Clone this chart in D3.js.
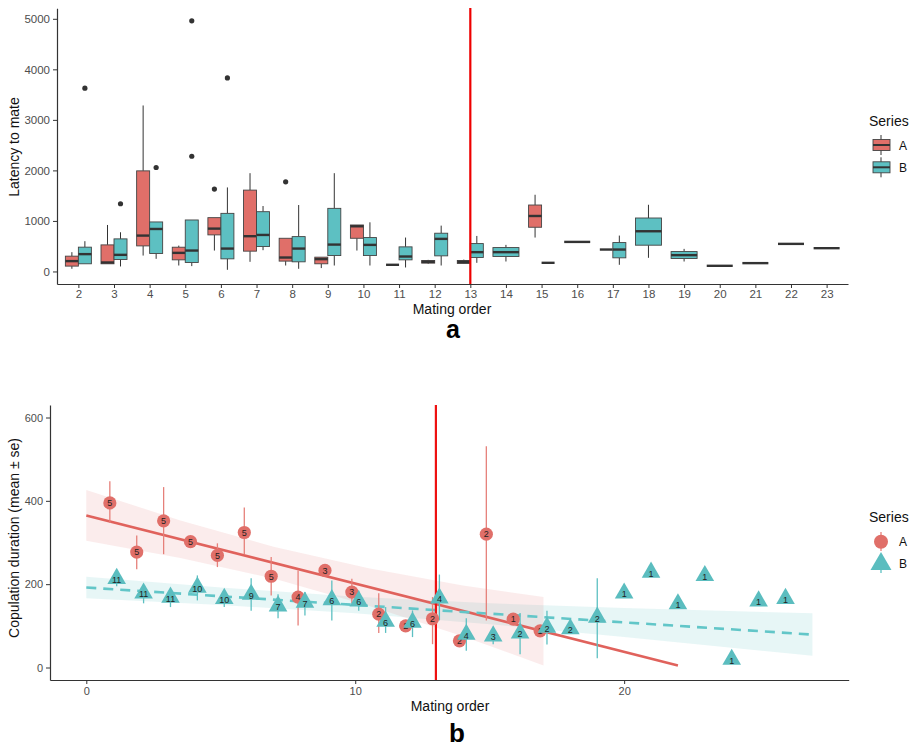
<!DOCTYPE html>
<html>
<head>
<meta charset="utf-8">
<script src="https://cdn.jsdelivr.net/npm/d3@7"></script>
<style>
  body { margin: 0; background: #fff; }
  svg { font-family: "Liberation Sans", Arial, sans-serif; }
  .axis path, .axis line { stroke: #333; }
  .axis text { fill: #4d4d4d; }
</style>
</head>
<body>
<script>
// ---- panel a: latency to mate (boxplots) ----
var orders = ['2','3','4','5','6','7','8','9','10','11','12','13','14','15','16','17','18','19','20','21','22','23']
var seriesNames = ['A', 'B']
var seriesColors = ['#e06f69', '#5dc0c2']

// [order, lower whisker, q1, median, q3, upper whisker]
var boxA = [
    ['2', 53, 106, 205, 303, 382],
    ['3', 150, 152, 178, 526, 920],
    ['4', 315, 506, 710, 1991, 3285],
    ['5', 118, 230, 368, 480, 512],
    ['6', 414, 724, 848, 1065, 1065],
    ['7', 191, 402, 698, 1610, 1945],
    ['8', 118, 205, 276, 657, 657],
    ['9', 67, 152, 244, 283, 283],
    ['10', 414, 657, 894, 920, 920],
    ['11', 132, 132, 132, 132, 132],
    ['12', 150, 165, 191, 217, 230],
    ['13', 150, 158, 191, 217, 235],
    ['15', 671, 875, 1098, 1315, 1518],
    ['17', 434, 434, 434, 434, 434]
]
var boxB = [
    ['2', 152, 152, 343, 481, 599],
    ['3', 99, 237, 329, 645, 776],
    ['4', 250, 355, 841, 980, 980],
    ['5', 106, 178, 414, 1019, 1019],
    ['6', 33, 250, 453, 1150, 1663],
    ['7', 421, 493, 723, 1183, 1295],
    ['8', 53, 191, 453, 690, 1315],
    ['9', 118, 315, 532, 1249, 1945],
    ['10', 118, 315, 526, 671, 973],
    ['11', 79, 230, 296, 487, 671],
    ['12', 118, 309, 645, 757, 907],
    ['13', 171, 276, 382, 552, 703],
    ['14', 197, 296, 382, 473, 526],
    ['15', 171, 171, 171, 171, 171],
    ['16', 585, 585, 585, 585, 585],
    ['17', 132, 270, 434, 572, 710],
    ['18', 270, 520, 796, 1058, 1320],
    ['19', 197, 256, 323, 394, 447],
    ['20', 112, 112, 112, 112, 112],
    ['21', 165, 165, 165, 165, 165],
    ['22', 546, 546, 546, 546, 546],
    ['23', 461, 461, 461, 461, 461]
]
// [order, series, value]
var outliers = [
    ['2', 'B', 3627], ['3', 'B', 1340], ['4', 'B', 2057],
    ['5', 'B', 4960], ['5', 'B', 2280], ['6', 'A', 1630],
    ['6', 'B', 3830], ['8', 'A', 1774]
]
var latencyTicks = [0, 1000, 2000, 3000, 4000, 5000]
var cutOrder = '13'

// ---- panel b: copulation duration (mean +- se) ----
var matingA = [1, 2, 3, 4, 5, 6, 7, 8, 9, 10, 11, 12, 13, 14, 15, 16, 17]
var meanA = [395, 277, 352, 302, 269, 324, 219, 169, 233, 181, 128, 100, 117, 64, 320, 116, 88]
var loA = [347, 236, 272, 292, 241, 272, 173, 101, 226, 154, 83, 92, 56, 56, 113, 116, 88]
var hiA = [447, 317, 433, 312, 298, 384, 265, 233, 241, 213, 178, 108, 169, 72, 531, 116, 88]
var nA = [5, 5, 5, 5, 5, 5, 5, 4, 3, 3, 2, 2, 2, 2, 2, 1, 1]

var matingB = [1, 2, 3, 4, 5, 6, 7, 8, 9, 10, 11, 12, 13, 14, 15, 16, 17, 18, 19, 20, 21, 22, 23, 24, 25, 26]
var meanB = [211, 176, 166, 190, 163, 173, 145, 154, 160, 157, 108, 106, 164, 77, 73, 80, 94, 90, 118, 176, 226, 150, 218, 17, 157, 163]
var loB = [195, 154, 145, 161, 145, 136, 118, 125, 113, 136, 83, 73, 113, 40, 56, 32, 55, 90, 22, 176, 226, 150, 218, 17, 157, 163]
var hiB = [228, 197, 185, 221, 183, 214, 176, 181, 209, 185, 145, 137, 223, 118, 90, 131, 136, 90, 214, 176, 226, 150, 218, 17, 157, 163]
var nB = [11, 11, 11, 10, 10, 9, 7, 7, 6, 6, 6, 6, 4, 4, 3, 2, 2, 2, 2, 1, 1, 1, 1, 1, 1, 1]

// fitted lines and confidence bands
var fitA = [[0, 365], [22, 5]]
var bandAx = [0, 3.5, 7, 10.5, 14, 17]
var bandAlo = [304, 263, 213, 148, 75, 5]
var bandAhi = [426, 353, 289, 238, 197, 169]
var fitB = [[0, 192], [27, 79]]
var bandBx = [0, 5, 10, 15, 20, 27]
var bandBlo = [166, 150, 130, 104, 73, 28]
var bandBhi = [218, 192, 170, 154, 143, 130]
var durationTicks = [0, 200, 400, 600]
var orderTicks = [0, 10, 20]
var cutMating = 13

var width = 915, height = 749
var svg = d3.select('body').append('svg')
    .attr('width', width)
    .attr('height', height)

// ================= panel a =================
var xa = d3.scalePoint().domain(orders).range([57, 848]).padding(0.6)
var ya = d3.scaleLinear().domain([-248, 5208]).range([284, 8.3])
var step = xa.step()
var color = d3.scaleOrdinal().domain(seriesNames).range(seriesColors)

var ordA = new Set(boxA.map(d => d[0]))
var ordB = new Set(boxB.map(d => d[0]))
function both(o) { return ordA.has(o) && ordB.has(o) }
function boxCenter(o, s) {
    if (!both(o)) return xa(o)
    return xa(o) + (s == 'A' ? -1 : 1) * step * 0.1825
}
function boxWidth(o) { return both(o) ? step * 0.365 : step * 0.73 }

var ga = svg.append('g')
var boxes = boxA.map(d => ({s: 'A', d: d})).concat(boxB.map(d => ({s: 'B', d: d})))
boxes.forEach(b => {
    var d = b.d, cx = boxCenter(d[0], b.s), w = boxWidth(d[0])
    ga.append('line').attr('x1', cx).attr('x2', cx)
        .attr('y1', ya(d[5])).attr('y2', ya(d[4]))
        .attr('stroke', '#333').attr('stroke-width', 1)
    ga.append('line').attr('x1', cx).attr('x2', cx)
        .attr('y1', ya(d[2])).attr('y2', ya(d[1]))
        .attr('stroke', '#333').attr('stroke-width', 1)
    ga.append('rect')
        .attr('x', cx - w / 2).attr('width', w)
        .attr('y', ya(d[4])).attr('height', ya(d[2]) - ya(d[4]))
        .attr('fill', color(b.s))
        .attr('stroke', '#444').attr('stroke-width', 0.9)
    ga.append('line')
        .attr('x1', cx - w / 2).attr('x2', cx + w / 2)
        .attr('y1', ya(d[3])).attr('y2', ya(d[3]))
        .attr('stroke', '#333').attr('stroke-width', 2.4)
})
ga.selectAll('circle.out')
    .data(outliers).enter()
    .append('circle')
    .attr('cx', d => boxCenter(d[0], d[1]))
    .attr('cy', d => ya(d[2]))
    .attr('r', 2.6)
    .attr('fill', '#333')

ga.append('line')
    .attr('x1', xa(cutOrder)).attr('x2', xa(cutOrder))
    .attr('y1', 8).attr('y2', 284)
    .attr('stroke', '#ee0000').attr('stroke-width', 2.2)

var axA = svg.append('g').attr('class', 'axis')
    .attr('transform', 'translate(0,284)')
    .call(d3.axisBottom(xa).tickSize(4).tickSizeOuter(0).tickPadding(2))
axA.selectAll('text').attr('font-size', 11.5)
var ayA = svg.append('g').attr('class', 'axis')
    .attr('transform', 'translate(57,0)')
    .call(d3.axisLeft(ya).tickValues(latencyTicks).tickFormat(d3.format('d'))
        .tickSize(4).tickSizeOuter(0).tickPadding(3))
ayA.selectAll('text').attr('font-size', 11.5)
svg.selectAll('.axis path').attr('stroke-width', 1.2)

svg.append('text').attr('x', 452).attr('y', 314)
    .attr('text-anchor', 'middle').attr('font-size', 14).attr('fill', '#111')
    .text('Mating order')
svg.append('text').attr('transform', 'translate(19,147) rotate(-90)')
    .attr('text-anchor', 'middle').attr('font-size', 14).attr('fill', '#111')
    .text('Latency to mate')
svg.append('text').attr('x', 453).attr('y', 338)
    .attr('text-anchor', 'middle').attr('font-size', 25).attr('font-weight', 'bold')
    .text('a')

// legend a
var la = svg.append('g')
la.append('text').attr('x', 869).attr('y', 126).attr('font-size', 14).attr('fill', '#111').text('Series')
seriesNames.forEach((s, i) => {
    var cy = 145 + i * 22.3
    la.append('line').attr('x1', 881).attr('x2', 881).attr('y1', cy - 10).attr('y2', cy + 10)
        .attr('stroke', '#333').attr('stroke-width', 1)
    la.append('rect').attr('x', 873).attr('y', cy - 5.5).attr('width', 17).attr('height', 11)
        .attr('fill', color(s)).attr('stroke', '#444').attr('stroke-width', 0.9)
    la.append('line').attr('x1', 873).attr('x2', 890).attr('y1', cy).attr('y2', cy)
        .attr('stroke', '#333').attr('stroke-width', 2)
    la.append('text').attr('x', 899).attr('y', cy + 4.5).attr('font-size', 12).attr('fill', '#111').text(s)
})

// ================= panel b =================
var xb = d3.scaleLinear().domain([-1.35, 28.35]).range([50, 848.7])
var yb = d3.scaleLinear().domain([-30, 630]).range([680, 405])
var gb = svg.append('g')

function dodge(m, s) {
    var inA = matingA.includes(m), inB = matingB.includes(m)
    if (!(inA && inB)) return m
    return m + (s == 'A' ? -0.125 : 0.13)
}

var area = d3.area().x(d => xb(d[0])).y0(d => yb(d[1])).y1(d => yb(d[2]))
var bandA = bandAx.map((x, i) => [x, bandAlo[i], bandAhi[i]])
var bandB = bandBx.map((x, i) => [x, bandBlo[i], bandBhi[i]])
gb.append('path').datum(bandB).attr('d', area)
    .attr('fill', '#5dc0c2').attr('fill-opacity', 0.15)
gb.append('path').datum(bandA).attr('d', area)
    .attr('fill', '#e06f69').attr('fill-opacity', 0.13)

var line = d3.line().x(d => xb(d[0])).y(d => yb(d[1]))
gb.append('path').datum(fitA).attr('d', line)
    .attr('stroke', '#e0625c').attr('stroke-width', 2.6).attr('fill', 'none')
gb.append('path').datum(fitB).attr('d', line)
    .attr('stroke', '#62c6c8').attr('stroke-width', 2.6).attr('fill', 'none')
    .attr('stroke-dasharray', '10,7')

var ptsA = matingA.map((m, i) => ({x: dodge(m, 'A'), y: meanA[i], lo: loA[i], hi: hiA[i], n: nA[i]}))
var ptsB = matingB.map((m, i) => ({x: dodge(m, 'B'), y: meanB[i], lo: loB[i], hi: hiB[i], n: nB[i]}))

gb.selectAll('line.eb')
    .data(ptsA).enter().append('line')
    .attr('x1', d => xb(d.x)).attr('x2', d => xb(d.x))
    .attr('y1', d => yb(d.lo)).attr('y2', d => yb(d.hi))
    .attr('stroke', '#e6807a').attr('stroke-width', 1.3)
gb.selectAll('line.ebb')
    .data(ptsB).enter().append('line')
    .attr('x1', d => xb(d.x)).attr('x2', d => xb(d.x))
    .attr('y1', d => yb(d.lo)).attr('y2', d => yb(d.hi))
    .attr('stroke', '#5dc0c2').attr('stroke-width', 1.3)

gb.append('line')
    .attr('x1', xb(cutMating)).attr('x2', xb(cutMating))
    .attr('y1', 405).attr('y2', 680)
    .attr('stroke', '#ee1111').attr('stroke-width', 2.2)

var tri = d3.symbol().type(d3.symbolTriangle).size(150)
ptsA.forEach(d => {
    gb.append('circle').attr('cx', xb(d.x)).attr('cy', yb(d.y)).attr('r', 6.6)
        .attr('fill', '#e06f69')
    gb.append('text').attr('x', xb(d.x)).attr('y', yb(d.y) + 3.3)
        .attr('text-anchor', 'middle').attr('font-size', 9).attr('fill', '#222').text(d.n)
})
ptsB.forEach(d => {
    gb.append('path').attr('d', tri)
        .attr('transform', 'translate(' + xb(d.x) + ',' + (yb(d.y) - 1) + ')')
        .attr('fill', '#5bbdbf')
    gb.append('text').attr('x', xb(d.x)).attr('y', yb(d.y) + 3.3)
        .attr('text-anchor', 'middle').attr('font-size', 9).attr('fill', '#222').text(d.n)
})

var axB = svg.append('g').attr('class', 'axis')
    .attr('transform', 'translate(0,680)')
    .call(d3.axisBottom(xb).tickValues(orderTicks).tickSize(4).tickSizeOuter(0).tickPadding(3))
axB.selectAll('text').attr('font-size', 11)
var ayB = svg.append('g').attr('class', 'axis')
    .attr('transform', 'translate(50,0)')
    .call(d3.axisLeft(yb).tickValues(durationTicks).tickSize(4).tickSizeOuter(0).tickPadding(3))
ayB.selectAll('text').attr('font-size', 11)
svg.selectAll('.axis path').attr('stroke-width', 1.2)

svg.append('text').attr('x', 450).attr('y', 711)
    .attr('text-anchor', 'middle').attr('font-size', 14).attr('fill', '#111')
    .text('Mating order')
svg.append('text').attr('transform', 'translate(19,538) rotate(-90)')
    .attr('text-anchor', 'middle').attr('font-size', 14).attr('fill', '#111')
    .text('Copulation duration (mean \u00b1 se)')
svg.append('text').attr('x', 457).attr('y', 742)
    .attr('text-anchor', 'middle').attr('font-size', 26).attr('font-weight', 'bold')
    .text('b')

// legend b
var lb = svg.append('g')
lb.append('text').attr('x', 869).attr('y', 522).attr('font-size', 14).attr('fill', '#111').text('Series')
lb.append('line').attr('x1', 881).attr('x2', 881).attr('y1', 532).attr('y2', 551)
    .attr('stroke', '#e6807a').attr('stroke-width', 1.3)
lb.append('circle').attr('cx', 881).attr('cy', 541.7).attr('r', 7)
    .attr('fill', color('A'))
lb.append('line').attr('x1', 881).attr('x2', 881).attr('y1', 554).attr('y2', 573)
    .attr('stroke', '#5dc0c2').attr('stroke-width', 1.3)
lb.append('path').attr('d', d3.symbol().type(d3.symbolTriangle).size(190))
    .attr('transform', 'translate(881,564)')
    .attr('fill', '#5bbdbf')
lb.append('text').attr('x', 899).attr('y', 546).attr('font-size', 12).attr('fill', '#111').text('A')
lb.append('text').attr('x', 899).attr('y', 568).attr('font-size', 12).attr('fill', '#111').text('B')
</script>
</body>
</html>
